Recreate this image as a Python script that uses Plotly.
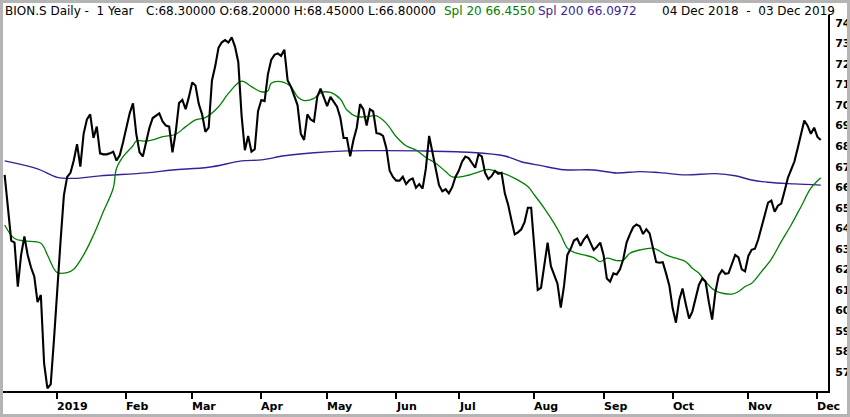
import pandas as pd
import plotly.graph_objects as go

# SIX exchange holidays inside the window (no trading, collapsed on the axis)
holidays = [
    "2018-12-24", "2018-12-25", "2018-12-26", "2018-12-31",
    "2019-01-01", "2019-01-02", "2019-04-19", "2019-04-22",
    "2019-05-01", "2019-05-30", "2019-06-10", "2019-08-01",
]

# daily close, 04 Dec 2018 .. 03 Dec 2019
close = [
    66.6, 65.0, 63.4, 63.3, 61.15, 62.7, 63.6, 62.7, 62.1, 61.65,
    60.4, 60.75, 57.4, 56.2, 56.4, 58.6, 61.2, 63.4, 65.6, 66.5,
    66.7, 67.3, 68.1, 67.0, 68.6, 69.3, 69.55, 68.4, 68.95, 67.65,
    67.6, 67.6, 67.65, 67.73, 67.3, 67.57, 68.2, 68.95, 69.6, 70.09,
    68.6, 67.7, 67.5, 68.2, 68.9, 69.37, 69.5, 69.6, 69.2, 69.0,
    68.95, 67.7, 68.7, 70.1, 70.25, 69.8, 70.4, 71.1, 70.95, 70.05,
    69.55, 68.7, 68.9, 71.2, 71.9, 72.8, 73.06, 73.17, 73.05, 73.3,
    72.85, 72.1, 69.5, 67.8, 68.5, 67.73, 67.85, 69.7, 70.25, 70.2,
    71.5, 72.2, 72.45, 72.52, 72.4, 72.7, 71.2, 70.9, 70.45, 70.0,
    68.6, 68.3, 69.55, 69.3, 69.2, 70.4, 70.8, 70.4, 69.95, 70.4,
    70.17, 69.92, 69.4, 68.4, 68.4, 67.5, 68.3, 68.9, 70.05, 69.8,
    69.0, 69.8, 69.7, 68.63, 68.6, 68.5, 67.9, 66.8, 66.5, 66.32,
    66.32, 66.51, 66.15, 66.35, 66.43, 65.97, 66.15, 65.93, 66.9, 68.5,
    67.7, 66.8, 66.1, 65.8, 65.9, 65.7, 66.0, 66.5, 66.8, 67.24,
    67.49, 67.42, 67.17, 66.95, 67.6, 67.5, 66.7, 66.4, 66.55, 66.8,
    66.65, 66.7, 65.7, 65.15, 64.4, 63.7, 63.8, 63.95, 64.3, 65.0,
    65.0, 62.8, 61.0, 61.1, 62.2, 63.3, 62.15, 61.75, 61.3, 60.13,
    61.2, 62.7, 63.0, 63.4, 63.5, 63.15, 63.45, 63.65, 63.25, 62.94,
    63.1, 63.3, 62.7, 61.55, 61.4, 61.8, 61.75, 62.0, 62.5, 63.3,
    63.7, 64.05, 64.18, 64.1, 63.72, 63.95, 63.75, 63.0, 62.35, 62.32,
    62.35, 61.8, 61.2, 60.1, 59.4, 60.5, 61.06, 60.3, 59.6, 59.95,
    60.6, 61.25, 61.55, 61.4, 60.4, 59.55, 60.9, 61.7, 61.95, 61.78,
    61.81, 62.3, 62.7, 62.58, 62.0, 61.9, 62.65, 62.95, 63.0, 63.45,
    64.1, 64.7, 65.25, 65.35, 64.8, 65.1, 65.2, 65.8, 66.45, 66.85,
    67.25, 67.9, 68.6, 69.25, 69.0, 68.6, 68.9, 68.45, 68.3,
]

# Spl 20 (green), sampled at trading-day numbers
spl20_day = [0, 3, 6, 11, 13, 15, 16, 19, 21, 24, 27, 30, 33, 34, 36, 39, 40,
             43, 45, 48, 52, 55, 58, 61, 65, 68, 72, 75, 78, 80, 81, 84, 87,
             89, 91, 94, 96, 99, 102, 104, 107, 110, 113, 116, 119, 122, 125,
             128, 131, 134, 136, 140, 143, 147, 150, 152, 155, 159, 161, 164,
             167, 169, 171, 173, 176, 179, 181, 183, 186, 188, 190, 193, 197,
             199, 201, 204, 207, 209, 211, 213, 216, 221, 223, 225, 227, 230,
             233, 236, 239, 242, 245, 248]
spl20 = [64.16, 63.5, 63.38, 63.27, 62.7, 62.02, 61.84, 61.84, 62.0, 62.7,
         63.67, 64.81, 65.95, 66.92, 67.49, 68.02, 68.25, 68.25, 68.3, 68.46,
         68.58, 68.95, 69.28, 69.39, 69.92, 70.57, 71.17, 70.9, 70.65, 70.69,
         71.06, 71.14, 70.9, 70.41, 70.22, 70.33, 70.6, 70.62, 70.3, 69.76,
         69.44, 69.44, 69.47, 69.11, 68.46, 68.02, 67.81, 67.45, 67.17, 66.76,
         66.5, 66.55, 66.68, 66.87, 66.73, 66.65, 66.43, 66.03, 65.62, 64.97,
         64.24, 63.67, 63.03, 62.83, 62.7, 62.57, 62.37, 62.54, 62.42, 62.45,
         62.78, 62.94, 63.03, 62.89, 62.7, 62.54, 62.37, 62.05, 61.81, 61.4,
         60.95, 60.79, 60.92, 61.16, 61.32, 61.89, 62.5, 63.35, 64.16, 65.05,
         65.95, 66.46]

# Spl 200 (purple)
spl200_day = [0, 10, 16, 21, 29, 43, 51, 62, 72, 78, 85, 94, 104, 114, 126,
              141, 152, 157, 163, 170, 179, 186, 193, 199, 207, 216, 222, 227,
              232, 240, 248]
spl200 = [67.28, 66.89, 66.48, 66.43, 66.55, 66.7, 66.84, 66.97, 67.28, 67.33,
          67.53, 67.68, 67.77, 67.78, 67.77, 67.7, 67.52, 67.24, 67.05, 66.85,
          66.84, 66.69, 66.76, 66.71, 66.6, 66.66, 66.56, 66.35, 66.24, 66.16,
          66.1]

month_starts = ["2019-01-01", "2019-02-01", "2019-03-01", "2019-04-01",
                "2019-05-01", "2019-06-01", "2019-07-01", "2019-08-01",
                "2019-09-01", "2019-10-01", "2019-11-01", "2019-12-01"]
month_labels = ["2019", "Feb", "Mar", "Apr", "May", "Jun", "Jul", "Aug",
                "Sep", "Oct", "Nov", "Dec"]
y_ticks = list(range(57, 75))

GREEN = "#008000"
PURPLE = "#3c1e96"
FONT = "DejaVu Sans"


def main():
    days = pd.bdate_range("2018-12-04", "2019-12-03")
    days = days[~days.isin(pd.to_datetime(holidays))]

    # ticks sit on the first trading day of each month
    tick_x = [days[days >= pd.Timestamp(m)][0] for m in month_starts]

    fig = go.Figure()
    fig.add_trace(go.Scatter(
        x=[days[i] for i in spl200_day], y=spl200, mode="lines",
        line=dict(color=PURPLE, width=1.4, shape="spline"), name="Spl 200"))
    fig.add_trace(go.Scatter(
        x=[days[i] for i in spl20_day], y=spl20, mode="lines",
        line=dict(color=GREEN, width=1.3, shape="spline"), name="Spl 20"))
    fig.add_trace(go.Scatter(
        x=days, y=close, mode="lines",
        line=dict(color="black", width=2.1), name="BION.S"))

    fig.update_layout(
        width=850, height=417,
        margin=dict(l=3, r=22, t=15, b=26, pad=0, autoexpand=False),
        paper_bgcolor="white", plot_bgcolor="white",
        showlegend=False,
        font=dict(family=FONT, color="black", size=12),
    )

    fig.update_xaxes(
        range=["2018-12-03 12:00", "2019-12-05 05:00"],
        rangebreaks=[dict(bounds=["sat", "mon"]), dict(values=holidays)],
        tickmode="array", tickvals=tick_x, showticklabels=False,
        ticks="outside", ticklen=6, tickwidth=1.5, tickcolor="black",
        showline=True, linecolor="black", linewidth=2,
        showgrid=False, zeroline=False,
    )
    fig.update_yaxes(
        range=[56.07, 74.39], side="right",
        tickmode="array", tickvals=y_ticks,
        ticks="", ticklabelstandoff=3,
        tickfont=dict(family=FONT, size=11, weight="bold", color="black"),
        showline=True, linecolor="black", linewidth=2,
        showgrid=False, zeroline=False,
    )

    # month labels start at their tick
    for tx, label in zip(tick_x, month_labels):
        fig.add_annotation(
            x=tx, xref="x", y=0, yref="paper", text=label, showarrow=False,
            xanchor="left", yanchor="middle", yshift=-15.5, xshift=-2,
            font=dict(family=FONT, size=11, weight="bold", color="black"))

    # header line
    header = [
        (4, "BION.S Daily -\u00a0\u00a01 Year", "black"),
        (145, "C:68.30000 O:68.20000 H:68.45000 L:66.80000", "black"),
        (443, "Spl 20 66.4550", GREEN),
        (537, "Spl 200 66.0972", PURPLE),
        (661, "04 Dec 2018\u00a0\u00a0-\u00a0\u00a003 Dec 2019", "black"),
    ]
    for px, text, color in header:
        fig.add_annotation(
            x=0, xref="paper", y=1, yref="paper", text=text, showarrow=False,
            xanchor="left", yanchor="middle", xshift=px - 4, yshift=4.5,
            font=dict(family=FONT, size=12, color=color))

    # window frame
    fig.add_shape(type="rect", xref="paper", yref="paper",
                  x0=-0.00182, x1=1.02485, y0=-0.06516, y1=1.0359,
                  line=dict(color="#b4b4b4", width=3))

    # page margin off so the figure fills the 850x417 window exactly
    fig.write_html("out.html",
                   config={"displayModeBar": False},
                   post_script="document.body.style.margin='0px';")


if __name__ == "__main__":
    main()
